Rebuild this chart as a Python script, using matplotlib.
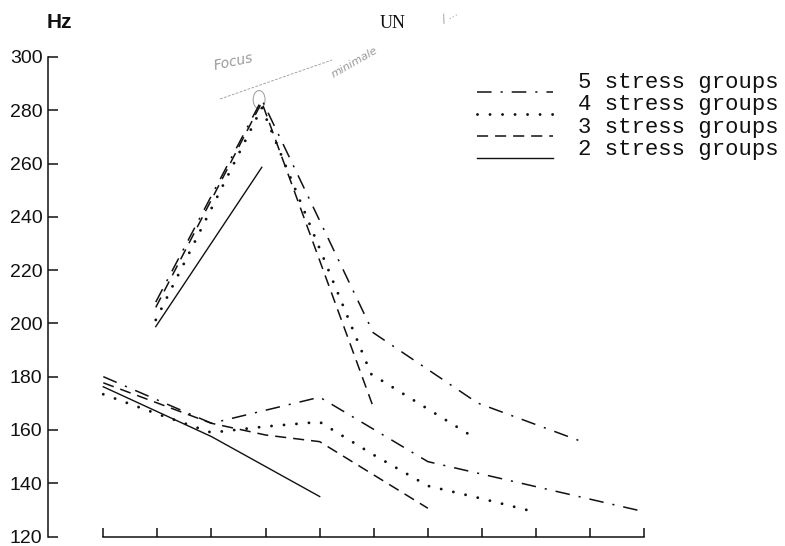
import matplotlib
matplotlib.use('Agg')
import matplotlib.pyplot as plt
from matplotlib.lines import Line2D
from matplotlib.patches import Ellipse

plt.rcParams['lines.scale_dashes'] = False

# lower curves (index along x, Hz)
five_lo_x = [0, 2, 4, 6, 10]
five_lo_y = [180.0, 162.5, 172.3, 148.1, 129.3]
four_lo_x = [0, 1, 2, 3, 4, 5, 6, 7, 7.9]
four_lo_y = [173.4, 166.0, 159.0, 161.3, 163.0, 150.6, 139.0, 134.2, 129.6]
three_lo_x = [0, 2, 3, 4, 6]
three_lo_y = [177.7, 162.5, 158.1, 155.6, 130.6]
two_lo_x = [0, 2, 4]
two_lo_y = [176.2, 157.5, 135.0]

# upper curves (focus peak)
five_hi_x = [0.97, 2.93, 4.99, 6.92, 8.93]
five_hi_y = [208.0, 284.0, 196.5, 170.1, 155.0]
four_hi_x = [0.97, 2.93, 4.95, 6.9]
four_hi_y = [201.3, 281.0, 181.0, 156.6]
three_hi_x = [0.97, 2.93, 4.97]
three_hi_y = [206.0, 283.0, 169.7]
two_hi_x = [0.97, 2.93]
two_hi_y = [198.8, 258.6]

labels = ['5 stress groups', '4 stress groups', '3 stress groups', '2 stress groups']
yticks = [120, 140, 160, 180, 200, 220, 240, 260, 280, 300]
xticks = list(range(11))

ink = '#111111'
styles = [
    dict(ls=(0, (10.5, 6.5, 1.5, 6.5)), lw=1.1),
    dict(ls=(0, (0.01, 9)), lw=2.1, dash_capstyle='round'),
    dict(ls=(0, (8, 5)), lw=1.1),
    dict(ls='-', lw=1.0),
]

fig = plt.figure(figsize=(7.85, 5.46), dpi=100)
ax = fig.add_axes([48 / 785, 9.5 / 546, 612 / 785, 479.5 / 546])
ax.set_xlim(-1.022, -1.022 + 612 / 54.1)
ax.set_ylim(120, 300)

series = [
    (five_lo_x, five_lo_y, five_hi_x, five_hi_y),
    (four_lo_x, four_lo_y, four_hi_x, four_hi_y),
    (three_lo_x, three_lo_y, three_hi_x, three_hi_y),
    (two_lo_x, two_lo_y, two_hi_x, two_hi_y),
]
for (lx, ly, hx, hy), st in zip(series, styles):
    ax.plot(lx, ly, color=ink, **st)
    ax.plot(hx, hy, color=ink, **st)

for s in ['top', 'right']:
    ax.spines[s].set_visible(False)
ax.spines['left'].set_bounds(120, 300)
ax.spines['bottom'].set_bounds(0, 10)
for s in ['left', 'bottom']:
    ax.spines[s].set_linewidth(1.1)
    ax.spines[s].set_color(ink)

ax.set_yticks(yticks)
ax.set_xticks(xticks)
ax.tick_params(axis='y', direction='in', length=7, width=1.1, pad=4,
               labelsize=14, colors=ink)
ax.tick_params(axis='x', direction='in', length=6.5, width=1.1,
               labelbottom=False, colors=ink)
for t in ax.get_yticklabels():
    t.set_fontfamily('Liberation Sans')

# legend drawn by hand, line under the text baseline like the original
for i, (lab, st) in enumerate(zip(labels, styles)):
    base = 88.3 + 22.2 * i
    fig.text(578 / 785, 1 - base / 546, lab, family='Liberation Mono',
             fontsize=16, va='baseline', ha='left', color=ink)
    fig.add_artist(Line2D([477 / 785, 553 / 785],
                          [1 - (base + 3.5) / 546] * 2,
                          transform=fig.transFigure, color=ink, **st))

fig.text(59 / 785, 1 - 22 / 546, 'Hz', family='Liberation Sans',
         fontweight='bold', fontsize=15, ha='center', va='center', color=ink)
fig.text(380 / 785, 1 - 28 / 546, 'UN', family='Liberation Serif',
         fontsize=13, ha='left', va='baseline', color=ink)

# pencil notes
pencil = '#999999'
fig.text(233 / 785, 1 - 62 / 546, 'Focus', family='DejaVu Sans',
         style='italic', fontsize=10, rotation=12, ha='center', va='center',
         color=pencil)
fig.add_artist(Line2D([220 / 785, 332 / 785], [1 - 99 / 546, 1 - 60 / 546],
                      transform=fig.transFigure, color=pencil, lw=0.6,
                      ls=(0, (2, 1))))
fig.text(355 / 785, 1 - 62 / 546, 'minimale', family='DejaVu Sans',
         style='italic', fontsize=8, rotation=30, ha='center', va='center',
         color=pencil)
fig.text(450 / 785, 1 - 16 / 546, '/ ...', family='DejaVu Sans',
         style='italic', fontsize=8, rotation=30, ha='center', va='center',
         color=pencil)
ax.add_patch(Ellipse((2.88, 284), 0.22, 6.8, fill=False, ec=pencil, lw=0.7))

fig.savefig('out.png', dpi=100)
